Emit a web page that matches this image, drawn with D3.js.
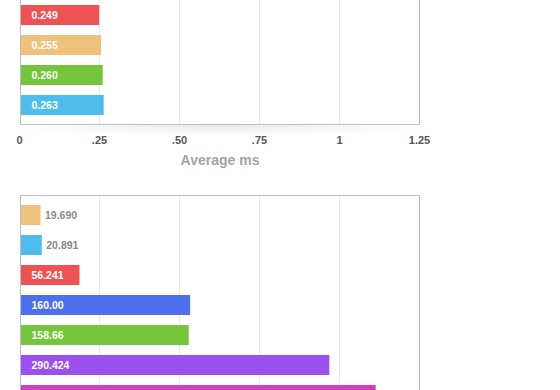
<!DOCTYPE html>
<html>
<head>
<meta charset="utf-8">
<script src="https://cdn.jsdelivr.net/npm/d3@7"></script>
<style>
  body { margin: 0; background: #fff; }
  svg { display: block; font-family: "Liberation Sans", Arial, Helvetica, sans-serif; }
</style>
</head>
<body>
<svg id="chart" width="560" height="390"></svg>
<script>
// top chart (average ms)
const topValues = [0.249, 0.255, 0.260, 0.263];
const topLabels = ["0.249", "0.255", "0.260", "0.263"];
const topColors = ["#ef5252", "#eec27c", "#74c53a", "#4ebdec"];
const topTicks = [0, 0.25, 0.5, 0.75, 1, 1.25];
const topTickLabels = ["0", ".25", ".50", ".75", "1", "1.25"];
const topTitle = "Average ms";

// bottom chart (the last bar's label sits below the visible area)
const bottomValues = [19.690, 20.891, 56.241, 160.00, 158.66, 290.424, 333.9];
const bottomLabels = ["19.690", "20.891", "56.241", "160.00", "158.66", "290.424", ""];
const bottomColors = ["#eec27c", "#4ebdec", "#ef5252", "#4f70ec", "#74c53a", "#9b4fec", "#cf3fbf"];
const bottomTicks = [0, 75, 150, 225, 300, 375];

const svg = d3.select("#chart");

/**
 * Draws one horizontal bar chart box: border, grid, bars and value labels.
 * top / bottom are the pixel limits of the band range
 */
function drawBars(values, labels, colors, ticks, top, bottom, boxTop, boxBottom) {
    const x = d3.scaleLinear().domain([ticks[0], ticks[ticks.length - 1]]).range([19.5, 419.5]);
    const y = d3.scaleBand()
        .domain(d3.range(values.length))
        .range([top, bottom])
        .paddingInner(1 / 3)
        .paddingOuter(1 / 3);

    const g = svg.append("g");

    // soft shadow under the box
    if (boxBottom < 390) {
        g.append("ellipse")
            .attr("cx", 220).attr("cy", boxBottom)
            .attr("rx", 215).attr("ry", 13)
            .attr("fill", "url(#shade)");
    }

    g.append("rect")
        .attr("x", 20.5).attr("y", boxTop)
        .attr("width", 399).attr("height", boxBottom - boxTop)
        .attr("fill", "#fff");

    g.selectAll("line.grid").data(ticks.slice(1, -1)).enter().append("line")
        .attr("class", "grid")
        .attr("x1", d => x(d)).attr("x2", d => x(d))
        .attr("y1", boxTop).attr("y2", boxBottom)
        .attr("stroke", "#e9e9e9")
        .attr("stroke-width", 1);

    g.selectAll("rect.bar").data(values).enter().append("rect")
        .attr("class", "bar")
        .attr("x", 21)
        .attr("y", (d, i) => y(i))
        .attr("width", d => x(d) - 21)
        .attr("height", y.bandwidth())
        .attr("fill", (d, i) => colors[i]);

    g.selectAll("text.val").data(values).enter().append("text")
        .attr("class", "val")
        .attr("x", d => (x(d) - 21 > 40 ? 31.5 : x(d) + 4.5))
        .attr("y", (d, i) => y(i) + y.bandwidth() / 2 + 3.8)
        .attr("font-size", "10.5px")
        .attr("font-weight", "bold")
        .attr("fill", d => (x(d) - 21 > 40 ? "#fff" : "#8a8a8a"))
        .text((d, i) => labels[i]);

    g.append("rect")
        .attr("x", 20.5).attr("y", boxTop)
        .attr("width", 399).attr("height", boxBottom - boxTop)
        .attr("fill", "none")
        .attr("stroke", "#bdbdbd")
        .attr("stroke-width", 1);

    return x;
}

const defs = svg.append("defs");
const shade = defs.append("radialGradient").attr("id", "shade");
shade.append("stop").attr("offset", "0%").attr("stop-color", "#000").attr("stop-opacity", 0.08);
shade.append("stop").attr("offset", "100%").attr("stop-color", "#000").attr("stop-opacity", 0);

const xTop = drawBars(topValues, topLabels, topColors, topTicks, -5, 125, -10, 124.5);

// axis labels for the top chart
const axis = svg.append("g");
axis.selectAll("text").data(topTicks).enter().append("text")
    .attr("x", d => xTop(d))
    .attr("y", 144)
    .attr("text-anchor", "middle")
    .attr("font-size", "11px")
    .attr("font-weight", "bold")
    .attr("fill", "#555")
    .text((d, i) => topTickLabels[i]);

svg.append("text")
    .attr("x", 220)
    .attr("y", 165)
    .attr("text-anchor", "middle")
    .attr("font-size", "14px")
    .attr("font-weight", "bold")
    .attr("fill", "#a3a3a3")
    .text(topTitle);

drawBars(bottomValues, bottomLabels, bottomColors, bottomTicks, 195, 415, 195.5, 430);
</script>
</body>
</html>
